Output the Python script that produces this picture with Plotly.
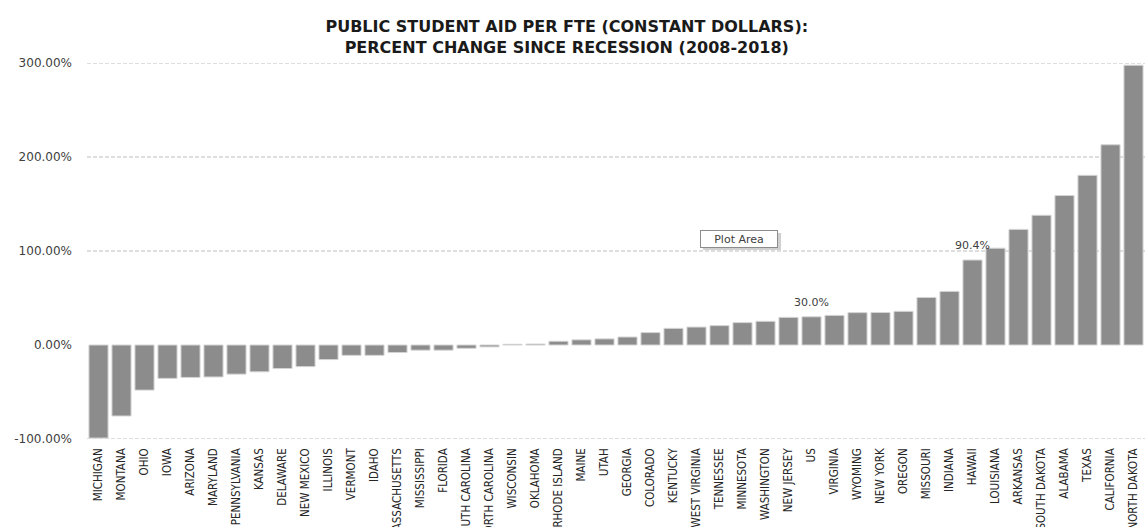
import plotly.graph_objects as go

states = ["MICHIGAN", "MONTANA", "OHIO", "IOWA", "ARIZONA", "MARYLAND", "PENNSYLVANIA",
          "KANSAS", "DELAWARE", "NEW MEXICO", "ILLINOIS", "VERMONT", "IDAHO",
          "MASSACHUSETTS", "MISSISSIPPI", "FLORIDA", "SOUTH CAROLINA", "NORTH CAROLINA",
          "WISCONSIN", "OKLAHOMA", "RHODE ISLAND", "MAINE", "UTAH", "GEORGIA", "COLORADO",
          "KENTUCKY", "WEST VIRGINIA", "TENNESSEE", "MINNESOTA", "WASHINGTON", "NEW JERSEY",
          "US", "VIRGINIA", "WYOMING", "NEW YORK", "OREGON", "MISSOURI", "INDIANA", "HAWAII",
          "LOUISIANA", "ARKANSAS", "SOUTH DAKOTA", "ALABAMA", "TEXAS", "CALIFORNIA",
          "NORTH DAKOTA"]

pct_change = [-99.0, -75.5, -48.0, -35.5, -34.5, -34.0, -31.0,
              -28.5, -25.0, -23.0, -15.5, -11.0, -11.0,
              -8.0, -5.5, -5.5, -3.5, -2.0,
              0.8, 1.0, 4.0, 5.5, 6.5, 8.5, 13.2,
              17.7, 19.1, 20.6, 23.8, 25.2, 29.4,
              30.0, 31.5, 34.4, 34.6, 35.8, 50.6, 57.0, 90.4,
              103.0, 123.0, 138.0, 159.0, 180.5, 213.0,
              297.6]

labelled = {"US": "30.0%", "HAWAII": "90.4%"}

y_ticks = [-100, 0, 100, 200, 300]
y_tick_text = ["-100.00%", "0.00%", "100.00%", "200.00%", "300.00%"]
grid_levels = [-100, 100, 200, 300]

fig = go.Figure()
fig.add_trace(go.Bar(
    x=states, y=pct_change,
    marker=dict(color="#8c8c8c", line=dict(color="#d4d4d4", width=1)),
    hoverinfo="x+y",
))

for lvl in grid_levels:
    fig.add_shape(type="line", xref="paper", yref="y", x0=0, x1=1, y0=lvl, y1=lvl,
                  line=dict(color="#bdbdbd", width=1, dash="4px,2px"), layer="below")

for st, txt in labelled.items():
    i = states.index(st)
    fig.add_annotation(x=st, y=pct_change[i], text=txt, showarrow=False,
                       yanchor="bottom", yshift=6,
                       font=dict(family="DejaVu Sans", size=11, color="#404040"))

# "Plot Area" tooltip box with a soft shadow
fig.add_shape(type="rect", xref="paper", yref="paper",
              x0=0.5822, x1=0.6560, y0=0.5027, y1=0.5479,
              line=dict(width=0), fillcolor="#d0d0d0", layer="above")
fig.add_annotation(xref="paper", yref="paper", x=0.5794, y=0.5332, text="Plot Area",
                   showarrow=False, bgcolor="white", borderpad=1,
                   width=74, height=14, align="center",
                   xanchor="left", yanchor="middle",
                   font=dict(family="DejaVu Sans", size=11, color="#404040"),
                   borderwidth=1, bordercolor="#8c8c8c")

fig.update_layout(
    width=1145, height=527,
    margin=dict(l=87, r=0, t=63, b=88),
    paper_bgcolor="white", plot_bgcolor="white",
    bargap=0.17,
    showlegend=False,
    title=dict(
        text="PUBLIC STUDENT AID PER FTE (CONSTANT DOLLARS):<br>PERCENT CHANGE SINCE RECESSION (2008-2018)",
        x=0.495, xref="container", xanchor="center",
        y=0.939, yref="container", yanchor="middle",
        font=dict(family="DejaVu Sans", size=16, color="#1a1a1a", weight="bold"),
    ),
    xaxis=dict(
        tickangle=-90, showgrid=False, zeroline=False, showline=False,
        ticks="", ticklabelstandoff=6, automargin=False,
        tickfont=dict(family="DejaVu Sans Condensed, Noto Sans", size=11.5, color="#262626"),
        range=[-0.5, len(states) - 0.5],
    ),
    yaxis=dict(
        range=[-100, 300], tickvals=y_ticks, ticktext=y_tick_text,
        showgrid=False, zeroline=False, showline=False, ticks="",
        ticklabelstandoff=14, automargin=False,
        tickfont=dict(family="DejaVu Sans", size=12, color="#404040"),
    ),
)

fig.write_html("out.html")
